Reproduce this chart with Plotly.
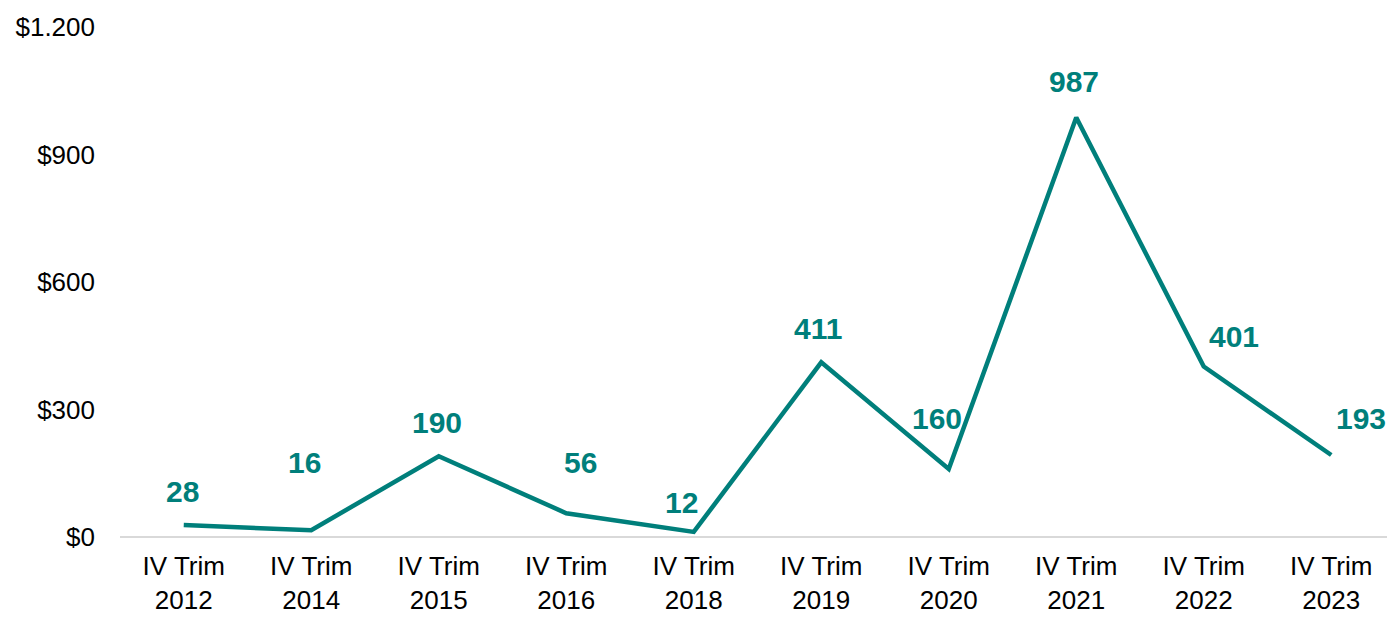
import plotly.graph_objects as go

categories = ["IV Trim<br>2012", "IV Trim<br>2014", "IV Trim<br>2015", "IV Trim<br>2016",
              "IV Trim<br>2018", "IV Trim<br>2019", "IV Trim<br>2020", "IV Trim<br>2021",
              "IV Trim<br>2022", "IV Trim<br>2023"]
values = [28, 16, 190, 56, 12, 411, 160, 987, 401, 193]
label_dx = [-1, -7, -2, 14, -12, -3, -12, -2, 30, 30]
label_dy = [34, 68, 34, 51, 29, 34, 51, 36, 30, 36]
y_ticks = [0, 300, 600, 900, 1200]
y_tick_text = ["$0", "$300", "$600", "$900", "$1.200"]

teal = "#007F7B"
fig = go.Figure()
fig.add_trace(go.Scatter(x=categories, y=values, mode="lines",
                         line=dict(color=teal, width=4.5), hoverinfo="skip"))

for c, v, dx, dy in zip(categories, values, label_dx, label_dy):
    fig.add_annotation(x=c, y=v, text=f"<b>{v}</b>", showarrow=False,
                       xshift=dx, yshift=dy,
                       font=dict(family="Liberation Sans, Arial", size=30, color=teal))

fig.update_layout(
    width=1387, height=609,
    margin=dict(l=112, r=0, t=19, b=80),
    paper_bgcolor="white", plot_bgcolor="white",
    showlegend=False,
    font=dict(family="Liberation Sans, Arial", size=26, color="black"),
    xaxis=dict(showgrid=False, showline=False, ticks="", zeroline=False,
               tickfont=dict(size=26), ticklabelstandoff=11, automargin=False,
               range=[-0.5, len(categories) - 0.5]),
    yaxis=dict(range=[0, 1200], tickvals=y_ticks, ticktext=y_tick_text, automargin=False,
               showgrid=False, zeroline=True, zerolinecolor="#d9d9d9", zerolinewidth=2,
               showline=False, ticks="", ticklabelstandoff=24, tickfont=dict(size=26)),
)
fig.write_html("out.html")
